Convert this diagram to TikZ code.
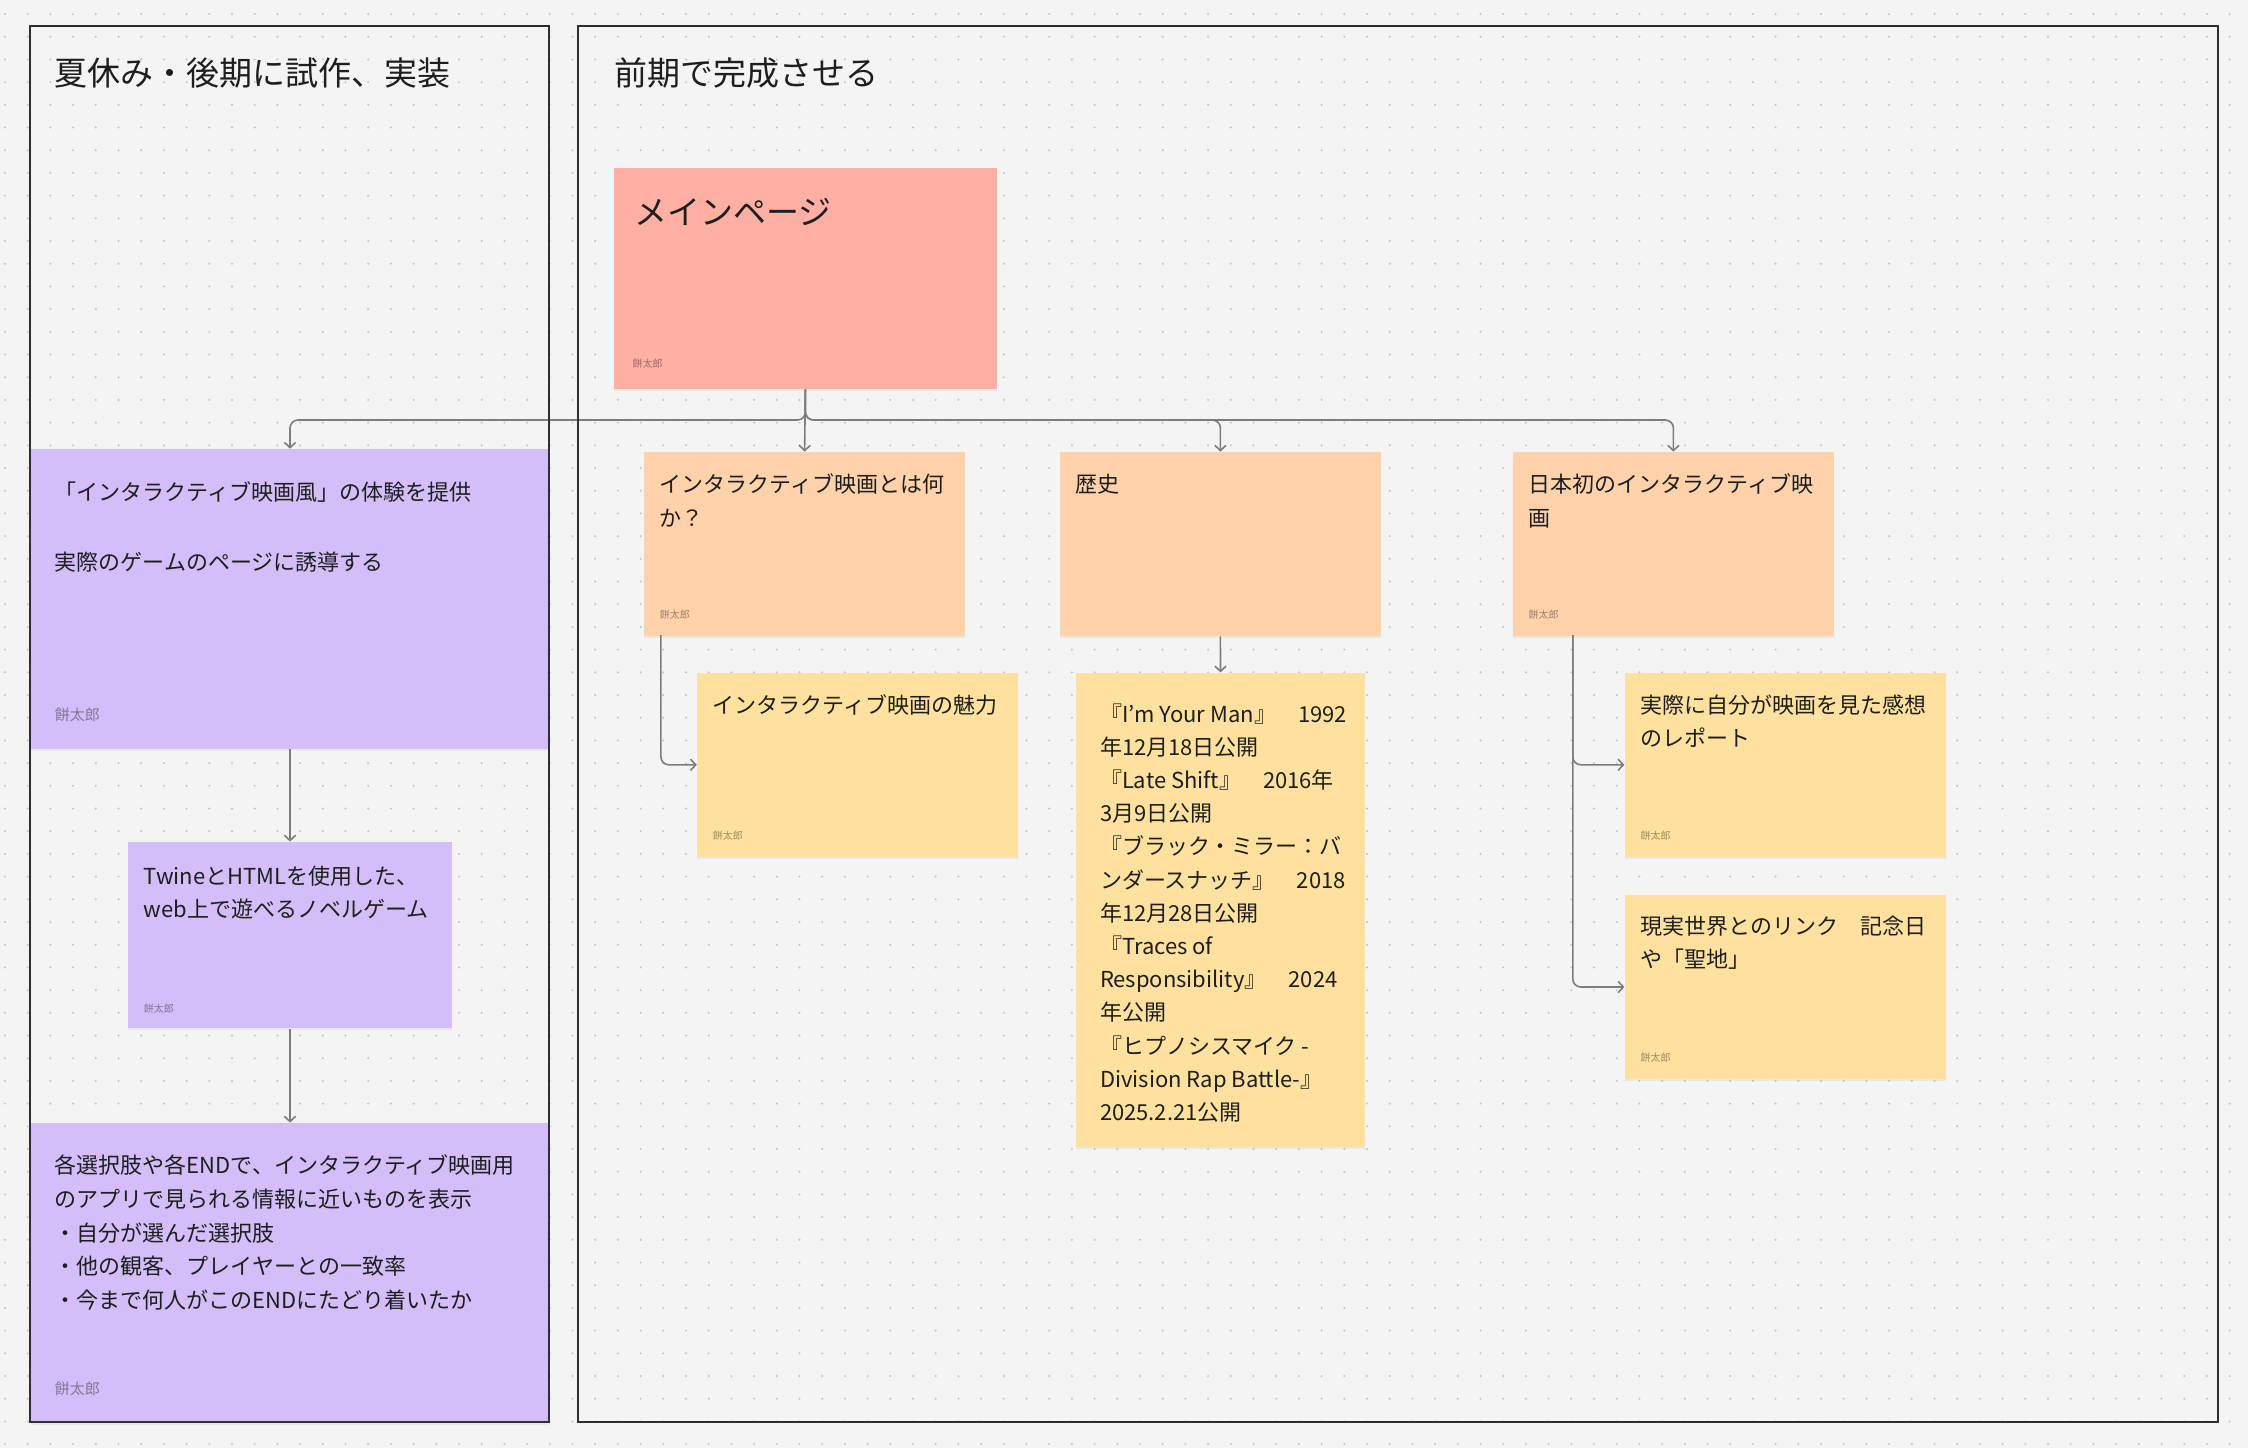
\documentclass[tikz,border=0pt]{standalone}
\usepackage{fontspec}
\setmainfont{Noto Sans CJK JP}
\usetikzlibrary{arrows.meta,shadows}

\definecolor{board}{HTML}{F4F4F4}
\definecolor{griddot}{HTML}{C4C4C4}
\definecolor{ink}{HTML}{1E1E1E}
\definecolor{panelc}{HTML}{2E2E2E}
\definecolor{wirec}{HTML}{7D7D7D}
\definecolor{salmon}{HTML}{FFAFA3}
\definecolor{lilac}{HTML}{D3BEF9}
\definecolor{peach}{HTML}{FFD2AA}
\definecolor{butter}{HTML}{FFE19F}

\tikzset{
  card/.style={anchor=north west,inner sep=0,draw=none,
    drop shadow={shadow xshift=0pt,shadow yshift=-1pt,opacity=.1}},
  cardsm/.style={card,minimum width=160.5pt,minimum height=92pt},
  heading/.style={anchor=west,inner sep=0,text=ink,font=\fontsize{16.5pt}{20pt}\selectfont},
  memo/.style={anchor=north west,inner sep=0,align=left,text=ink,font=\fontsize{11pt}{16.6pt}\selectfont},
  owner/.style={anchor=west,inner sep=0,text=black,text opacity=.38,font=\fontsize{5pt}{6pt}\selectfont},
  ownerbig/.style={owner,font=\fontsize{7.5pt}{9pt}\selectfont},
  wire/.style={draw=wirec,line width=.8pt,rounded corners=4pt,-{Straight Barb[length=2.6pt,width=5.6pt]}},
  panel/.style={draw=panelc,line width=.8pt},
  dotgrid/.style={draw=griddot,line width=1.1pt,line cap=round,dash pattern=on 0pt off 11.35pt}
}

\begin{document}
\begin{tikzpicture}[x=0.5pt,y=-0.5pt]
\useasboundingbox (0,0) rectangle (2248,1448);
\fill[board] (0,0) rectangle (2248,1448);
\begin{scope}[shift={(5,14)}]
\draw[dotgrid,step=11.35pt] (0,0) grid (2247.3,1430.1);
\end{scope}

% stickies
\node[card,fill=salmon,minimum width=191.4pt,minimum height=110.4pt] (main) at (613.6,167.7) {};
\node[cardsm,fill=peach] (intro) at (643.7,451.6) {};
\node[cardsm,fill=peach] (hist) at (1059.5,451.6) {};
\node[cardsm,fill=peach] (first) at (1512.5,451.6) {};
\node[cardsm,fill=butter] (charm) at (696.8,672.4) {};
\node[card,fill=butter,minimum width=144.8pt,minimum height=237.3pt] (films) at (1075.3,672.4) {};
\node[cardsm,fill=butter] (report) at (1624.4,672.4) {};
\node[cardsm,fill=butter] (place) at (1624.4,894.6) {};
\node[card,fill=lilac,minimum width=259.5pt,minimum height=149.8pt] (concept) at (30.1,448.7) {};
\node[card,fill=lilac,minimum width=162pt,minimum height=93.2pt] (novel) at (127.6,841.6) {};
\node[card,fill=lilac,minimum width=259.5pt,minimum height=149.8pt] (stats) at (30.1,1122.6) {};

% texts
\node[heading] (left-title) at (54.5,72.7) {夏休み・後期に試作、実装};
\node[heading] (right-title) at (613.6,72.7) {前期で完成させる};
\node[heading] (main-txt) at (633.7,212.3) {メインページ};
\node[owner] (main-by) at (632.2,363.5) {餅太郎};
\node[memo] (intro-txt) at (659.5,473.7) {インタラクティブ映画とは何\\か？};
\node[owner] (intro-by) at (659.5,614.4) {餅太郎};
\node[memo] (hist-txt) at (1075.3,473.7) {歴史};
\node[memo] (first-txt) at (1528.3,473.7) {日本初のインタラクティブ映\\画};
\node[owner] (first-by) at (1528.3,614.4) {餅太郎};
\node[memo] (charm-txt) at (712.5,694.4) {インタラクティブ映画の魅力};
\node[owner] (charm-by) at (712.5,835.2) {餅太郎};
\node[memo] (films-txt) at (1099.6,703) {『I’m Your Man』　1992\\年12月18日公開\\『Late Shift』　2016年\\3月9日公開\\『ブラック・ミラー：バ\\ンダースナッチ』　2018\\年12月28日公開\\『Traces of\\Responsibility』　2024\\年公開\\『ヒプノシスマイク -\\Division Rap Battle-』\\2025.2.21公開};
\node[memo] (report-txt) at (1640.2,694.5) {実際に自分が映画を見た感想\\のレポート};
\node[owner] (report-by) at (1640.2,835.2) {餅太郎};
\node[memo] (place-txt) at (1640.2,915.2) {現実世界とのリンク　記念日\\や「聖地」};
\node[owner] (place-by) at (1640.2,1057.4) {餅太郎};
\node[memo] (concept-txt) at (54.5,480.8) {「インタラクティブ映画風」の体験を提供\\[18.5pt]実際のゲームのページに誘導する};
\node[ownerbig] (concept-by) at (54.5,715) {餅太郎};
\node[memo] (novel-txt) at (143.4,865.1) {TwineとHTMLを使用した、\\web上で遊べるノベルゲーム};
\node[owner] (novel-by) at (143.4,1008.8) {餅太郎};
\node[memo,font=\fontsize{11pt}{16.8pt}\selectfont] (stats-txt) at (54.5,1154.7) {各選択肢や各ENDで、インタラクティブ映画用\\のアプリで見られる情報に近いものを表示\\・自分が選んだ選択肢\\・他の観客、プレイヤーとの一致率\\・今まで何人がこのENDにたどり着いたか};
\node[ownerbig] (stats-by) at (54.5,1388.8) {餅太郎};

% connectors
\coordinate (split) at (804.3,420);
\draw[wire] (main.south) |- (split -| concept.north) -- (concept.north);
\draw[wire] (main.south) -- (intro.north);
\draw[wire] (main.south) |- (split -| hist.north) -- (hist.north);
\draw[wire] (main.south) |- (split -| first.north) -- (first.north);
\draw[wire] (concept.south) -- (novel.north);
\draw[wire] (novel.south) -- (stats.north);
\coordinate (intro-tap) at (660.9,635.1);
\draw[wire] (intro-tap) |- (charm.west);
\draw[wire] (hist.south) -- (films.north);
\coordinate (first-tap) at (1572.8,635.1);
\draw[wire] (first-tap) |- (report.west);
\draw[wire] (first-tap) |- (place.west);

% frames
\draw[panel] (30,26) rectangle (549,1422);
\draw[panel] (578,26) rectangle (2218,1422);
\end{tikzpicture}
\end{document}
